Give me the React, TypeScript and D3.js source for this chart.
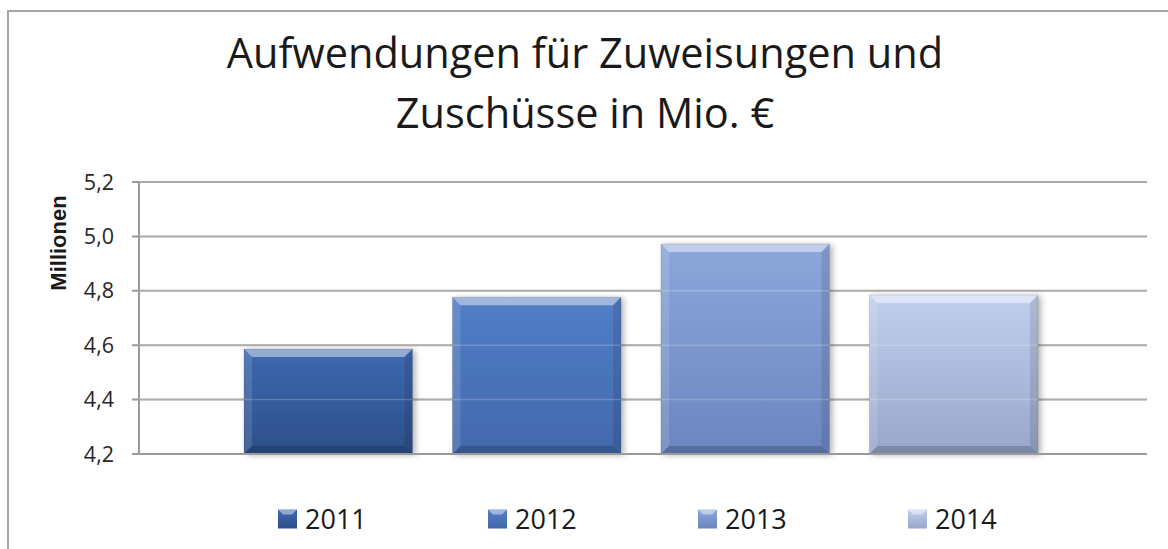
import React from "react";
import * as d3 from "d3";

const years = ["2011", "2012", "2013", "2014"];
const values = [4.586, 4.776, 4.972, 4.785];
const yTicks = [4.2, 4.4, 4.6, 4.8, 5.0, 5.2];
const titleLines = ["Aufwendungen für Zuweisungen und", "Zuschüsse in Mio. €"];
const axisTitle = "Millionen";
const topColors = ["#3e69b0", "#527ec7", "#8ca7da", "#c1cfee"];
const bottomColors = ["#2d4f8a", "#4268ac", "#6b86c0", "#97a7ca"];

const W = 1168;
const H = 549;
const plot = { left: 139, right: 1147, top: 182, bottom: 454 };

export default function App() {
  const y = d3.scaleLinear().domain([4.2, 5.2]).range([plot.bottom, plot.top]);
  const x = d3
    .scaleBand<string>()
    .domain(years)
    .range([244, 1038])
    .paddingInner(0.192)
    .paddingOuter(0);
  const bw = x.bandwidth();
  const fmt = (v: number) => d3.format(".1f")(v).replace(".", ",");
  const font = "'Open Sans', 'Liberation Sans', sans-serif";
  const bev = 8;
  const legendStep = 210;
  const legendStart = 278;

  return (
    <svg
      width={W}
      height={H}
      style={{ position: "absolute", left: 0, top: 0, background: "#fff" }}
    >
      <defs>
        {years.map((yr, i) => (
          <linearGradient key={yr} id={`g${i}`} x1="0" y1="0" x2="0" y2="1">
            <stop offset="0%" stopColor={topColors[i]} />
            <stop offset="100%" stopColor={bottomColors[i]} />
          </linearGradient>
        ))}
        <filter id="shadow" x="-10%" y="-10%" width="130%" height="130%">
          <feGaussianBlur in="SourceAlpha" stdDeviation="3" />
          <feOffset dx="3" dy="1" result="b" />
          <feComponentTransfer>
            <feFuncA type="linear" slope="0.3" />
          </feComponentTransfer>
          <feMerge>
            <feMergeNode />
            <feMergeNode in="SourceGraphic" />
          </feMerge>
        </filter>
      </defs>

      {/* chart border */}
      <rect x={8} y={11} width={1300} height={700} fill="none" stroke="#a6a6a6" strokeWidth={2} />

      {/* title */}
      {titleLines.map((t, i) => (
        <text
          key={i}
          x={585}
          y={68 + i * 60}
          textAnchor="middle"
          fontFamily={font}
          fontSize={41.5}
          fill="#1a1a1a"
        >
          {t}
        </text>
      ))}

      {/* gridlines */}
      {yTicks.map((t) => (
        <line
          key={t}
          x1={plot.left - 7}
          x2={plot.right}
          y1={y(t)}
          y2={y(t)}
          stroke="#9a9a9a"
          strokeWidth={2}
        />
      ))}
      <line x1={plot.left} x2={plot.left} y1={plot.top} y2={plot.bottom} stroke="#9a9a9a" strokeWidth={2} />

      {/* y tick labels */}
      {yTicks.map((t) => (
        <text
          key={t}
          x={114}
          y={y(t)}
          dy="0.35em"
          textAnchor="end"
          fontFamily={font}
          fontSize={21.5}
          fill="#262626"
        >
          {fmt(t)}
        </text>
      ))}
      <text
        transform={`translate(66, 243) rotate(-90)`}
        textAnchor="middle"
        fontFamily="'Liberation Sans', Arial, sans-serif"
        fontWeight="bold"
        fontSize={22}
        fill="#1a1a1a"
      >
        {axisTitle}
      </text>

      {/* bars */}
      {years.map((yr, i) => {
        const x0 = x(yr)!;
        const x1 = x0 + bw;
        const y0 = y(values[i]);
        const y1 = y(4.2);
        return (
          <g key={yr}>
            <rect x={x0} y={y0} width={bw} height={y1 - y0} fill={`url(#g${i})`} filter="url(#shadow)" />
            <polygon
              points={`${x0},${y0} ${x1},${y0} ${x1 - bev},${y0 + bev} ${x0 + bev},${y0 + bev}`}
              fill="#ffffff"
              opacity={0.45}
            />
            <polygon
              points={`${x0},${y0} ${x0 + bev},${y0 + bev} ${x0 + bev},${y1 - bev} ${x0},${y1}`}
              fill="#ffffff"
              opacity={0.12}
            />
            <polygon
              points={`${x1},${y0} ${x1 - bev},${y0 + bev} ${x1 - bev},${y1 - bev} ${x1},${y1}`}
              fill="#000000"
              opacity={0.1}
            />
            <polygon
              points={`${x0},${y1} ${x0 + bev},${y1 - bev} ${x1 - bev},${y1 - bev} ${x1},${y1}`}
              fill="#000000"
              opacity={0.18}
            />
            <rect x={x0} y={y0} width={bw} height={y1 - y0} fill="none" stroke="#000" strokeOpacity={0.12} strokeWidth={1} />
          </g>
        );
      })}

      {/* faint gridlines over bars */}
      {yTicks.slice(1).map((t) => (
        <line key={t} x1={plot.left} x2={plot.right} y1={y(t)} y2={y(t)} stroke="#ffffff" strokeOpacity={0.2} strokeWidth={1.5} />
      ))}
      <line x1={plot.left - 7} x2={plot.right} y1={y(4.2)} y2={y(4.2)} stroke="#9a9a9a" strokeWidth={2} />

      {/* legend */}
      {years.map((yr, i) => {
        const lx = legendStart + i * legendStep;
        const ly = 519;
        const s = 19;
        return (
          <g key={yr}>
            <rect x={lx} y={ly - s / 2} width={s} height={s} fill={`url(#g${i})`} />
            <polygon
              points={`${lx},${ly - s / 2} ${lx + s},${ly - s / 2} ${lx + s - 5},${ly - s / 2 + 5} ${lx + 5},${ly - s / 2 + 5}`}
              fill="#fff"
              opacity={0.45}
            />
            <text
              x={lx + s + 8}
              y={ly}
              dy="0.36em"
              fontFamily={font}
              fontSize={27}
              fill="#1a1a1a"
            >
              {yr}
            </text>
          </g>
        );
      })}
    </svg>
  );
}
